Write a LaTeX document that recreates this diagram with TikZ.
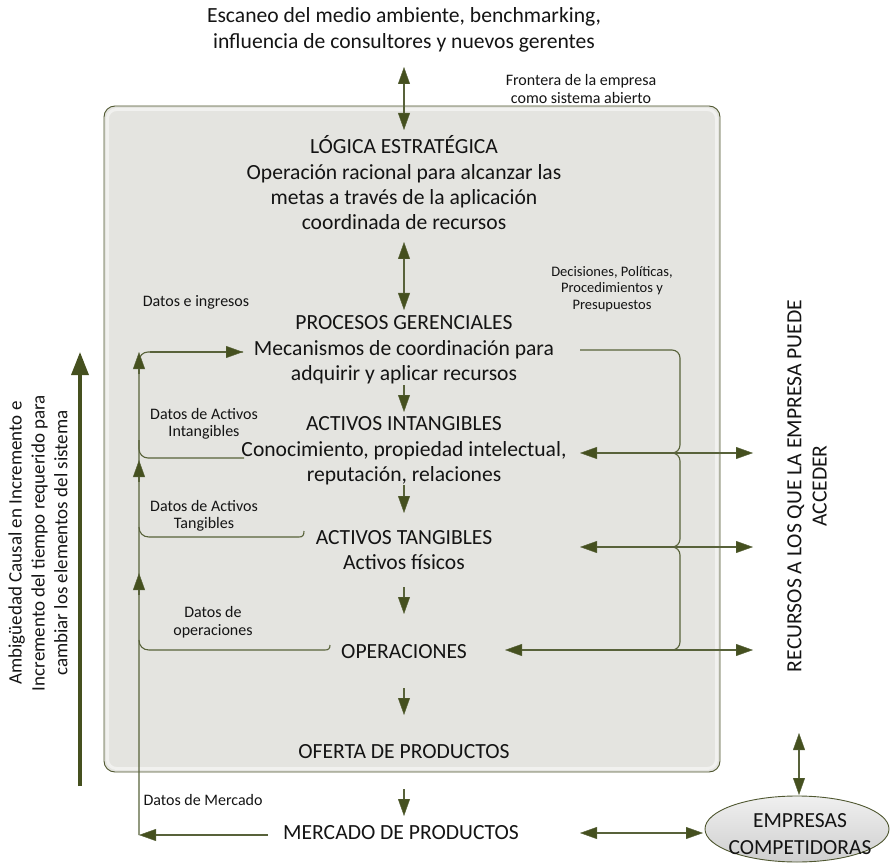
\documentclass[tikz,border=0pt]{standalone}
\usepackage{fontspec}
\setmainfont{Carlito}
\usetikzlibrary{arrows.meta,shapes.geometric}
\definecolor{tipC}{HTML}{45501F}
\definecolor{lineC}{HTML}{58623A}
\definecolor{boxF}{HTML}{E4E4E0}
\definecolor{boxD}{HTML}{4F5730}
\definecolor{txtC}{HTML}{141414}
\begin{document}
\begin{tikzpicture}[x=1pt,y=-1pt,
  main/.style={font=\fontsize{21.6}{25.3}\selectfont, align=center, inner sep=0pt, text=txtC},
  lbl/.style={font=\fontsize{16}{17.5}\selectfont, align=center, inner sep=0pt, text=txtC},
  sml/.style={font=\fontsize{14.5}{16.5}\selectfont, align=center, inner sep=0pt, text=txtC},
  ln/.style={draw=lineC, line width=1.1pt},
  tip/.tip={Triangle[length=17pt,width=12pt,fill=tipC,line width=0.4pt]},
  arr/.style={ln, -tip},
  darr/.style={ln, tip-tip}
]
\useasboundingbox (0,0) rectangle (891,866);

% boundary box
\draw[draw=boxD, fill=boxF, line width=0.9pt, rounded corners=11] (104,106) rectangle (720,772);
\draw[draw=white, opacity=0.5, line width=3pt, rounded corners=9] (107.5,109.5) rectangle (716.5,768.5);

% texts
\node[main] (title) at (404,30) {Escaneo del medio ambiente, benchmarking,\\influencia de consultores y nuevos gerentes};
\node[lbl] (frontera) at (581,89) {Frontera de la empresa\\como sistema abierto};
\node[main] (logica) at (404,183) {LÓGICA ESTRATÉGICA\\Operación racional para alcanzar las\\metas a través de la aplicación\\coordinada de recursos};
\node[main] (procesos) at (404,350) {PROCESOS GERENCIALES\\Mecanismos de coordinación para\\adquirir y aplicar recursos};
\node[main] (intang) at (404,451) {ACTIVOS INTANGIBLES\\Conocimiento, propiedad intelectual,\\reputación, relaciones};
\node[main] (tang) at (404,550) {ACTIVOS TANGIBLES\\Activos físicos};
\node[main] (oper) at (404,652) {OPERACIONES};
\node[main] (oferta) at (404,752) {OFERTA DE PRODUCTOS};
\node[main] (mercado) at (401,833) {MERCADO DE PRODUCTOS};
\node[ellipse, draw=boxD, line width=0.9pt, top color=gray!12, bottom color=gray!38,
      minimum width=184pt, minimum height=66pt, inner sep=0pt] (emp) at (797,829) {};
\node[main, font=\fontsize{21.5}{27}\selectfont] (emptxt) at (800,834) {EMPRESAS\\COMPETIDORAS};

\node[lbl] (dingr) at (196,302) {Datos e ingresos};
\node[lbl] (dint) at (204,424) {Datos de Activos\\Intangibles};
\node[lbl] (dtang) at (204,516) {Datos de Activos\\Tangibles};
\node[lbl] (dop) at (213,622) {Datos de\\operaciones};
\node[lbl] (dmerc) at (203,800) {Datos de Mercado};
\node[sml] (decis) at (612,289) {Decisiones, Políticas,\\Procedimientos y\\Presupuestos};

\node[main, rotate=90] (recursos) at (807,486) {RECURSOS A LOS QUE LA EMPRESA PUEDE\\ACCEDER};
\node[main, font=\fontsize{19}{22.8}\selectfont, rotate=90] (ambig) at (38,543) {Ambigüedad Causal en Incremento e\\Incremento del tiempo requerido para\\cambiar los elementos del sistema};

% coordinates
\coordinate (t1) at (404,67);   \coordinate (t2) at (404,130);
\coordinate (l1) at (404,242);  \coordinate (l2) at (404,310);
\coordinate (p1) at (404,385);  \coordinate (p2) at (404,412);
\coordinate (i1) at (404,485);  \coordinate (i2) at (404,513);
\coordinate (a1) at (404,587);  \coordinate (a2) at (404,614);
\coordinate (o1) at (404,688);  \coordinate (o2) at (404,715);
\coordinate (f1) at (404,789);  \coordinate (f2) at (404,816);
\coordinate (m1) at (580,833);  \coordinate (m2) at (703,833);
\coordinate (r1) at (799,733);  \coordinate (r2) at (799,795);

% vertical flow
\draw[darr] (t1) -- (t2);
\draw[darr] (l1) -- (l2);
\draw[arr] (p1) -- (p2);
\draw[arr] (i1) -- (i2);
\draw[arr] (a1) -- (a2);
\draw[arr] (o1) -- (o2);
\draw[arr] (f1) -- (f2);
\draw[darr] (m1) -- (m2);
\draw[darr] (r1) -- (r2);

% left feedback loop
\coordinate (mL) at (268,835);
\coordinate (cornerB) at (139,835);
\coordinate (cornerT) at (139,352);
\coordinate (procIn) at (243,352);
\draw[arr] (mL) -- (cornerB);
\draw[ln, rounded corners=9] (cornerB) -- (cornerT) -- (procIn);
\draw[arr] (150,352) -- (procIn);
\draw[arr] (139,374) -- (cornerT);
\draw[arr] (139,482) -- (139,460);
\draw[arr] (139,595) -- (139,573);

\coordinate (intL) at (244,458);
\draw[ln, rounded corners=9] (intL) -- (139,458) -- (139,440);
\coordinate (tangL) at (304,531);
\draw[ln] (tangL) .. controls (304,535.5) and (302.5,537) .. (299,537) -- (149,537) .. controls (143,537) and (139,533) .. (139,527);
\coordinate (opL) at (330,645);
\draw[ln] (opL) .. controls (330,648.5) and (328.5,650) .. (325,650) -- (149,650) .. controls (143,650) and (139,646) .. (139,640);

% right brace
\coordinate (procR) at (580,350);
\draw[ln, rounded corners=8] (procR) -- (680,350) -- (680,453) -- (668,453);
\draw[ln, rounded corners=8] (668,453) -- (680,453) -- (680,547) -- (668,547);
\draw[ln, rounded corners=8] (668,547) -- (680,547) -- (680,650) -- (668,650);

\coordinate (h1L) at (580,453); \coordinate (h1R) at (753,453);
\coordinate (h2L) at (580,547); \coordinate (h2R) at (753,547);
\coordinate (h3L) at (505,650); \coordinate (h3R) at (753,650);
\draw[darr] (h1L) -- (h1R);
\draw[darr] (h2L) -- (h2R);
\draw[darr] (h3L) -- (h3R);

% big left arrow
\coordinate (b1) at (80,786); \coordinate (b2) at (80,352);
\draw[draw=tipC, line width=3.4pt, -{Triangle[length=23pt,width=17pt,fill=tipC]}] (b1) -- (b2);
\end{tikzpicture}
\end{document}
